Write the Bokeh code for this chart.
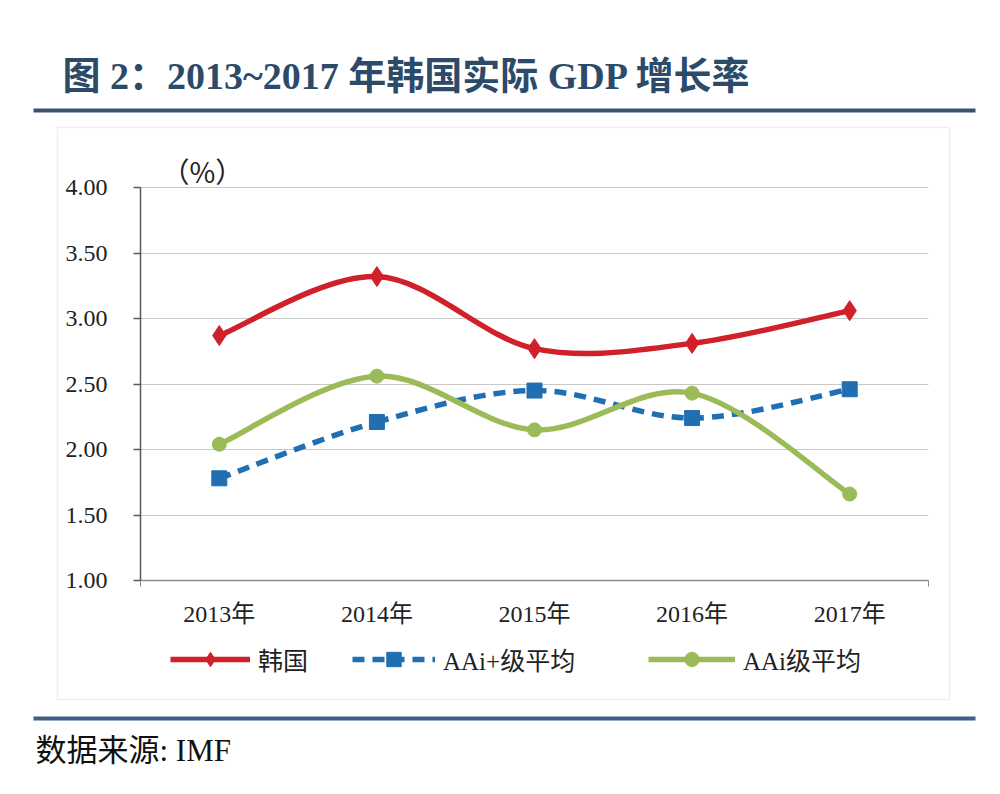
from bokeh.plotting import figure
from bokeh.models import (Range1d, FixedTicker, NumeralTickFormatter, Label, LinearAxis,
                          BoxAnnotation, Legend, LegendItem, Grid)
from bokeh.embed import file_html
from bokeh.resources import INLINE

# ---- data ----
years = ["2013年", "2014年", "2015年", "2016年", "2017年"]
korea = [2.87, 3.32, 2.77, 2.81, 3.06]
aai_plus = [1.78, 2.21, 2.45, 2.24, 2.46]
aai = [2.04, 2.56, 2.15, 2.43, 1.66]
y_ticks = [1.0, 1.5, 2.0, 2.5, 3.0, 3.5, 4.0]
series_names = ["韩国", "AAi+级平均", "AAi级平均"]
title_text = "图 2：2013~2017 年韩国实际 GDP 增长率"
source_text = "数据来源: IMF"
unit_text = "（%）"

SERIF = "Liberation Serif, Noto Sans CJK SC"
RED = "#d0202a"
BLUE = "#1f6fb2"
GREEN = "#9bbb59"

W, H = 1000, 794
# plot-area placement in page pixels (where x=-0.5..4.5 and y=1..4 go)
PL, PR, PT, PB = 140, 928, 187, 580
FL0, FB0 = 16, 778          # frame edges (small side panels hold the axes)
XU = (PR - PL) / 5.0        # pixels per category
YU = (PB - PT) / 3.0        # pixels per 1.0


def X(px):
    return -0.5 + (px - PL) / XU


def Y(py):
    return 1.0 + (PB - py) / YU


p = figure(width=W, height=H, output_backend="svg", toolbar_location=None,
           x_axis_location=None, y_axis_location=None,
           x_range=Range1d(X(FL0), X(W)), y_range=Range1d(Y(FB0), Y(0)),
           min_border_left=FL0, min_border_right=0, min_border_top=0,
           min_border_bottom=H - FB0)
p.outline_line_color = None
p.background_fill_color = "white"
p.border_fill_color = "white"
p.center = []

xs = list(range(len(years)))

# y axis line + outward ticks
ax_a = LinearAxis(ticker=FixedTicker(ticks=y_ticks), fixed_location=-0.5, bounds=(1.0, 4.0),
                  major_label_overrides={t: "" for t in y_ticks},
                  major_label_text_font_size="0px", major_label_standoff=0,
                  major_tick_in=0, major_tick_out=7, minor_tick_in=0, minor_tick_out=0,
                  major_tick_line_color="#595959", minor_tick_line_color=None,
                  axis_line_color="#595959", axis_line_width=1.5, major_tick_line_width=1.5)
# y tick labels
ax_b = LinearAxis(ticker=FixedTicker(ticks=y_ticks), formatter=NumeralTickFormatter(format="0.00"),
                  fixed_location=X(67), axis_line_color=None,
                  major_tick_line_color=None, minor_tick_line_color=None,
                  major_tick_in=0, major_tick_out=0, minor_tick_in=0, minor_tick_out=0,
                  major_label_standoff=-40, major_label_text_font=SERIF,
                  major_label_text_font_size="24px", major_label_text_color="#222222")
# x axis line
ax_c = LinearAxis(ticker=FixedTicker(ticks=[-0.5, 4.5]), fixed_location=1.0, bounds=(-0.5, 4.5),
                  major_label_overrides={-0.5: "", 4.5: ""},
                  major_label_text_font_size="0px", major_label_standoff=0,
                  major_tick_in=0, major_tick_out=6, minor_tick_in=0, minor_tick_out=0,
                  major_tick_line_color="#8c8c8c", minor_tick_line_color=None,
                  axis_line_color="#8c8c8c", axis_line_width=1.5)
# x tick labels
ax_d = LinearAxis(ticker=FixedTicker(ticks=xs), major_label_overrides={i: y for i, y in enumerate(years)},
                  fixed_location=Y(624), axis_line_color=None,
                  major_tick_line_color=None, minor_tick_line_color=None,
                  major_tick_in=0, major_tick_out=0, minor_tick_in=0, minor_tick_out=0,
                  major_label_standoff=-24, major_label_text_font=SERIF,
                  major_label_text_font_size="24px", major_label_text_color="#222222")
p.add_layout(ax_a, "left")
p.add_layout(ax_b, "left")
p.add_layout(ax_c, "below")
p.add_layout(ax_d, "below")

p.add_layout(Grid(dimension=1, ticker=FixedTicker(ticks=y_ticks[1:]), cross_bounds=(-0.5, 4.5),
                  grid_line_color="#c8c8c8", grid_line_width=1.2))


def smooth_bezier(x, y):
    """Catmull-Rom style control points (like Excel's smoothed line)."""
    n = len(x)
    out = dict(x0=[], y0=[], x1=[], y1=[], cx0=[], cy0=[], cx1=[], cy1=[])
    for i in range(n - 1):
        xa, ya = x[max(i - 1, 0)], y[max(i - 1, 0)]
        xb, yb = x[i], y[i]
        xc, yc = x[i + 1], y[i + 1]
        xd, yd = x[min(i + 2, n - 1)], y[min(i + 2, n - 1)]
        out["x0"].append(xb); out["y0"].append(yb)
        out["x1"].append(xc); out["y1"].append(yc)
        out["cx0"].append(xb + (xc - xa) / 6.0); out["cy0"].append(yb + (yc - ya) / 6.0)
        out["cx1"].append(xc - (xd - xb) / 6.0); out["cy1"].append(yc - (yd - yb) / 6.0)
    return out


def draw(vals, color, marker, size, dash):
    b = p.bezier(source=smooth_bezier(xs, vals), x0="x0", y0="y0", x1="x1", y1="y1",
                 cx0="cx0", cy0="cy0", cx1="cx1", cy1="cy1",
                 line_color=color, line_width=5.5, line_dash=dash)
    s = p.scatter(xs, vals, marker=marker, size=size, fill_color=color,
                  line_color=color, line_width=1)
    return b, s


r_k = draw(korea, RED, "diamond", 20, "solid")
r_p = draw(aai_plus, BLUE, "square", 15, "12 8")
r_a = draw(aai, GREEN, "circle", 14, "solid")

# legends (three separate, positioned like the original)
for rends, name, px, gw in [(r_k, series_names[0], 170, 80),
                            (r_p, series_names[1], 352, 83),
                            (r_a, series_names[2], 648, 87)]:
    lg = Legend(items=[LegendItem(label=name, renderers=list(rends))],
                location=(px - FL0, FB0 - 677), orientation="horizontal",
                glyph_width=gw, glyph_height=36, label_height=36,
                label_text_font=SERIF, label_text_font_size="25px",
                label_text_color="#222222", label_standoff=8,
                padding=0, margin=0, spacing=0,
                border_line_alpha=0, background_fill_alpha=0)
    p.add_layout(lg, "center")

# chart box
p.add_layout(BoxAnnotation(left=X(57), right=X(949), top=Y(127), bottom=Y(699),
                           fill_alpha=0, line_color="#c8c8c8", line_width=1.5))
# rules
for top, bot, col in [(108, 112, "#3b5272"), (716, 720, "#3f5f84")]:
    p.add_layout(BoxAnnotation(left=X(33), right=X(975), top=Y(top), bottom=Y(bot),
                               fill_color=col, fill_alpha=1, line_alpha=0))

p.add_layout(Label(x=X(62), y=Y(75), text=title_text, text_font=SERIF,
                   text_font_style="bold", text_font_size="38px", text_color="#2c4a6a",
                   text_baseline="middle", text_align="left"))
p.add_layout(Label(x=X(35), y=Y(750), text=source_text, text_font=SERIF,
                   text_font_size="31px", text_color="#111111",
                   text_baseline="middle", text_align="left"))
p.add_layout(Label(x=X(161), y=Y(170), text=unit_text, text_font="Noto Sans CJK SC",
                   text_font_size="28px", text_color="#222222",
                   text_baseline="middle", text_align="left"))

open("out.html", "w").write(file_html(p, INLINE))
